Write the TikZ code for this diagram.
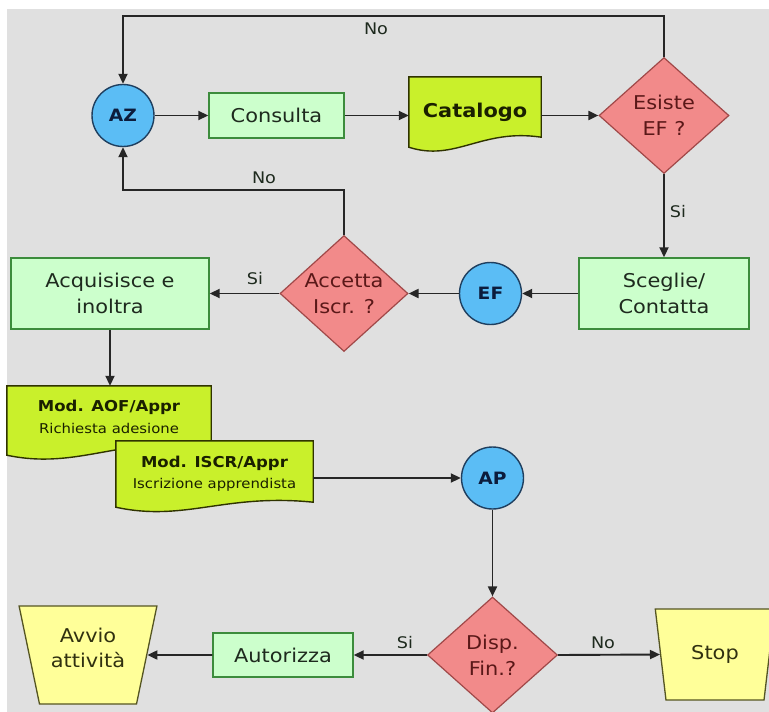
\documentclass[tikz,border=0pt]{standalone}
\usepackage{fontspec}
\setmainfont{DejaVu Sans}[FakeStretch=1.1]
\usetikzlibrary{arrows.meta,shapes.geometric,calc}

\definecolor{bgc}{HTML}{E0E0E0}
\definecolor{boxfill}{HTML}{CCFFCC}
\definecolor{boxline}{HTML}{3C8C3C}
\definecolor{boxtext}{HTML}{1E2A1E}
\definecolor{circfill}{HTML}{5BBDF5}
\definecolor{circline}{HTML}{1F3F5F}
\definecolor{circtext}{HTML}{0C1C3C}
\definecolor{diafill}{HTML}{F28A8A}
\definecolor{dialine}{HTML}{A04848}
\definecolor{diatext}{HTML}{5A1818}
\definecolor{docfill}{HTML}{C9F02B}
\definecolor{docline}{HTML}{2F3300}
\definecolor{doctext}{HTML}{1A2000}
\definecolor{trapfill}{HTML}{FFFF99}
\definecolor{trapline}{HTML}{555522}
\definecolor{traptext}{HTML}{303010}
\definecolor{linec}{HTML}{262626}

\pgfdeclarelayer{backdrop}
\pgfdeclarelayer{docs}
\pgfsetlayers{backdrop,docs,main}

% document symbol: flat top, wavy bottom; #2 lifts the right bottom corner
\newcommand\docpath[2]{%
  \draw[docshape] (#1.north west) -- (#1.north east) -- ($(#1.south east)+(0,-#2)$)
    .. controls ($(#1.south west)!0.55!(#1.south east)+(0,-#2-9)$)
    and ($(#1.south west)!0.35!(#1.south east)+(0,15)$) .. (#1.south west) -- cycle;}

\tikzset{
  conn/.style={draw=linec, line width=1.9pt, -{Triangle[length=10pt,width=9pt]}},
  proc/.style={rectangle, draw=boxline, fill=boxfill, line width=1.4pt, inner sep=0pt,
    align=center, text=boxtext, font=\fontsize{19}{26}\selectfont},
  hub/.style={circle, draw=circline, fill=circfill, line width=1.4pt, inner sep=0pt,
    minimum size=62pt, text=circtext, font=\bfseries\fontsize{17}{20}\selectfont},
  decision/.style={diamond, aspect=1.12, draw=dialine, fill=diafill, line width=1.2pt,
    inner sep=0pt, minimum width=130pt, minimum height=116pt, align=center,
    text=diatext, font=\fontsize{19}{26}\selectfont},
  docnode/.style={rectangle, inner sep=0pt, draw=none, align=center, text=doctext},
  docshape/.style={draw=docline, fill=docfill, line width=1.4pt},
  terminal/.style={trapezium, trapezium stretches=true, shape border rotate=180,
    trapezium angle=74, draw=trapline, fill=trapfill, line width=1.3pt, inner sep=0pt,
    align=center, text=traptext, font=\fontsize{19}{25}\selectfont},
  lbl/.style={inner sep=0pt, text=boxtext, font=\fontsize{16}{18}\selectfont},
}

\begin{document}
\begin{tikzpicture}[x=1pt, y=-1pt]
\useasboundingbox (0,0) rectangle (769,712);
\clip (0,0) rectangle (769,712);

\begin{pgfonlayer}{backdrop}
  \fill[white] (0,0) rectangle (769,712);
  \fill[bgc] (7,9) rectangle (769,712);
\end{pgfonlayer}

% first row
\node[hub] (az) at (123,115.5) {AZ};
\node[proc, minimum width=135pt, minimum height=45pt] (consulta) at (276.5,115.5) {Consulta};
\node[docnode, minimum width=132pt, minimum height=70pt,
      font=\bfseries\fontsize{19}{24}\selectfont] (catalogo) at (475,112) {Catalogo};
\node[decision] (esiste) at (664,115.5) {Esiste\\EF ?};

% second row
\node[proc, minimum width=170pt, minimum height=71pt] (sceglie) at (664,293.5) {Sceglie/\\Contatta};
\node[hub] (ef) at (490.5,293.5) {EF};
\node[decision, minimum width=128pt] (accetta) at (344,293.5) {Accetta\\Iscr. ?};
\node[proc, minimum width=198pt, minimum height=71pt] (acq) at (110,293.5) {Acquisisce e\\inoltra};

% forms
\node[docnode, minimum width=204pt, minimum height=69pt, text depth=7pt,
      font=\fontsize{13.5}{22}\selectfont] (aof) at (109,420.5)
      {{\bfseries\fontsize{15}{22}\selectfont Mod. AOF/Appr}\\Richiesta adesione};
\node[docnode, minimum width=197pt, minimum height=66pt,
      font=\fontsize{13.5}{21}\selectfont] (iscr) at (214.5,474)
      {{\bfseries\fontsize{15}{21}\selectfont Mod. ISCR/Appr}\\Iscrizione apprendista};
\node[hub] (ap) at (492.5,478) {AP};

% last row
\node[decision] (disp) at (492.5,655) {Disp.\\Fin.?};
\node[proc, minimum width=140pt, minimum height=44pt] (aut) at (283,655) {Autorizza};
\node[terminal, minimum width=138pt, minimum height=98pt, text depth=15pt] (avvio) at (88,655) {Avvio\\attività};
\node[terminal, minimum width=120pt, minimum height=91pt] (stop) at (715,654.5) {Stop};

% document outlines, behind their texts
\begin{pgfonlayer}{docs}
  \docpath{catalogo}{10}
  \docpath{aof}{10}
  \docpath{iscr}{5}
\end{pgfonlayer}

% connectors
\draw[conn] (az.east) -- (consulta.west);
\draw[conn] (consulta.east) -- (catalogo.west |- consulta.east);
\draw[conn] (catalogo.east |- esiste.west) -- (esiste.west);
\draw[conn] (esiste.north) -- ++(0,-41) -| (az.north);
\draw[conn] (esiste.south) -- (sceglie.north);
\draw[conn] (sceglie.west) -- (ef.east);
\draw[conn] (ef.west) -- (accetta.east);
\draw[conn] (accetta.north) -- ++(0,-44.5) -| (az.south);
\draw[conn] (accetta.west) -- (acq.east);
\draw[conn] (acq.south) -- (acq.south |- aof.north);
\draw[conn] (iscr.east |- ap.west) -- (ap.west);
\draw[conn] (ap.south) -- (disp.north);
\draw[conn] (disp.west) -- (aut.east);
\draw[conn] (aut.west) -- (avvio.east);
\draw[conn] (disp.east) -- (stop.west);

% branch labels
\node[lbl] (no1) at (376,29) {No};
\node[lbl] (no2) at (264,178) {No};
\node[lbl] (si1) at (678,212) {Si};
\node[lbl] (si2) at (255,279) {Si};
\node[lbl] (si3) at (405,643) {Si};
\node[lbl] (no3) at (603,643) {No};
\end{tikzpicture}
\end{document}
